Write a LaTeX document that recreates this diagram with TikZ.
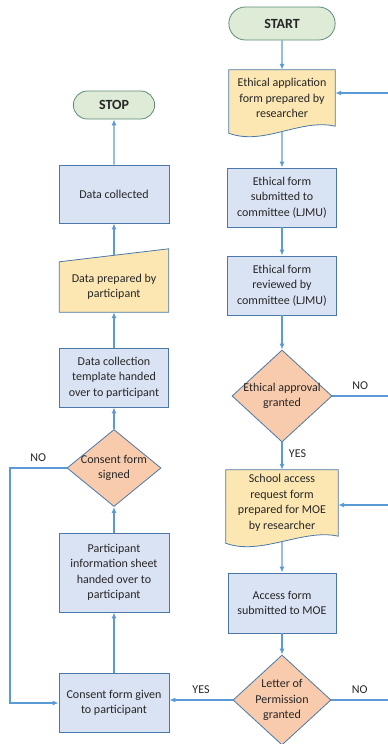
\documentclass[tikz,border=0pt]{standalone}
\usepackage{fontspec}
\setmainfont{Carlito}
\usepackage{tikz}
\usetikzlibrary{arrows, arrows.meta}
\usetikzlibrary{shapes.geometric, shapes.misc}
\usetikzlibrary{backgrounds, calc}
\definecolor{boxblue}{HTML}{DAE3F3}
\definecolor{boxline}{HTML}{4A78A8}
\definecolor{docyellow}{HTML}{FCE7B2}
\definecolor{decpeach}{HTML}{F8CBAD}
\definecolor{termgreen}{HTML}{DDEBD7}
\definecolor{termline}{HTML}{5E8C78}
\definecolor{flowblue}{HTML}{5B9BD5}

\begin{document}
\begin{tikzpicture}[x=1pt,y=-1pt,>={Latex[length=6pt,width=5pt]},
  every node/.style={font=\fontsize{12}{15.5}\selectfont, text=black!85, align=center},
  term/.style={rounded rectangle, draw=termline, fill=termgreen, line width=0.8pt, font=\fontsize{14}{16}\selectfont\bfseries},
  proc/.style={rectangle, draw=boxline, fill=boxblue, line width=0.8pt, minimum width=109pt, minimum height=59pt, inner sep=2pt},
  doc/.style={rectangle, minimum width=106pt, inner sep=2pt},
  dec/.style={diamond, draw=boxline, fill=decpeach, line width=0.8pt, inner sep=-14pt},
  shapeline/.style={draw=boxline, line width=0.8pt},
  flow/.style={->, draw=flowblue, line width=1.2pt}]
\useasboundingbox (0,0) rectangle (388,744);
\node[term, minimum width=113pt, minimum height=33pt] (start) at (282,23.5) {START};
\node[doc, minimum height=56pt] (app) at (282,98) {Ethical application\\form prepared by\\researcher};
\node[proc] (sub) at (282,197.5) {Ethical form\\submitted to\\committee (LJMU)};
\node[proc] (rev) at (282,285.5) {Ethical form\\reviewed by\\committee (LJMU)};
\node[dec, minimum width=100pt, minimum height=92pt] (appr) at (282,396) {Ethical approval\\granted};
\node[doc, minimum width=112pt, minimum height=66pt] (school) at (282,503) {School access\\request form\\prepared for MOE\\by researcher};
\node[proc, minimum width=108pt, minimum height=60pt] (access) at (282,603) {Access form\\submitted to MOE};
\node[dec, minimum width=98pt, minimum height=90pt] (letter) at (282,700) {Letter of\\Permission\\granted};
\node[proc, minimum width=110pt] (given) at (114,703) {Consent form given\\to participant};
\node[proc, minimum width=110pt, minimum height=79pt] (pis) at (114,572.5) {Participant\\information sheet\\handed over to\\participant};
\node[dec, minimum width=94pt, minimum height=77pt] (cons) at (114,468) {Consent form\\signed};
\node[proc] (tmpl) at (114,377.5) {Data collection\\template handed\\over to participant};
\node[doc, minimum width=109pt, minimum height=50pt] (prep) at (114,287) {Data prepared by\\participant};
\node[proc, minimum width=110pt, minimum height=58pt] (coll) at (114,194) {Data collected};
\node[term, minimum width=88pt, minimum height=28pt] (stop) at (114,105) {STOP};
\coordinate (rim) at (388,0);
\coordinate (loop) at (10,0);
\coordinate (back1) at (388,93);
\coordinate (back2) at (388,505);
\begin{scope}[on background layer]
\foreach \n in {app,school}
  \draw[shapeline, fill=docyellow] ($(\n.south west)+(0,7)$) -- (\n.north west) -- (\n.north east) -- (\n.south east)
    .. controls +(-35,-8) and +(35,13) .. ($(\n.south west)+(0,7)$) coordinate[pos=0.5] (\n-wave) -- cycle;
\draw[shapeline, fill=docyellow] (prep.south west) -- (prep.north west)
  -- ($(prep.north east)+(0,-13)$) coordinate[pos=0.5] (prep-top) -- (prep.south east) -- cycle;
\end{scope}
\foreach \a/\b in {start/app, sub/rev, rev/appr, access/letter, given/pis, pis/cons, cons/tmpl, coll/stop}
  \draw[flow] (\a) -- (\b);
\draw[flow] (app-wave) -- (sub);
\draw[flow] (school-wave) -- (access);
\draw[flow] (tmpl) -- (prep.south);
\draw[flow] (prep-top) -- (coll);
\draw[flow] (appr) -- (school) node[pos=0.4, right=3pt] {YES};
\draw[flow, -] (appr.east) -- (appr.east -| rim) node[midway, above=2pt] {NO};
\draw[flow] (back1) -- (back1 -| app.east);
\draw[flow] (back2) -- (back2 -| school.east);
\draw[flow] (letter.west) -- (given.east |- letter.west) node[midway, above=2pt] {YES};
\draw[flow, -] (letter.east) -- (letter.east -| rim) node[midway, above=2pt] {NO};
\draw[flow] (cons.west) -- (cons.west -| loop) node[midway, above=2pt] {NO} |- (given.west);
\end{tikzpicture}
\end{document}
